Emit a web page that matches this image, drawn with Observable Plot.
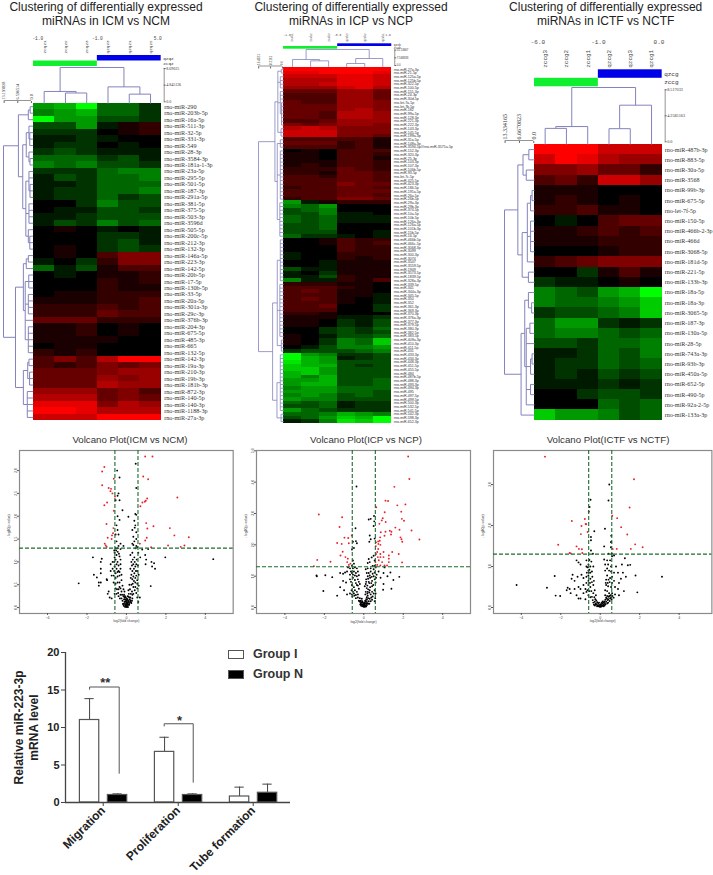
<!DOCTYPE html>
<html><head><meta charset="utf-8">
<script src="https://cdn.jsdelivr.net/npm/d3@7"></script>
<script src="https://cdn.jsdelivr.net/npm/@observablehq/plot@0.6"></script>
<style>
html,body{margin:0;padding:0;background:#fff}
#page{position:relative;width:713px;height:875px;overflow:hidden;font-family:"Liberation Sans",Arial,sans-serif;color:#222}
#page>svg,#page>div{position:absolute}
</style></head><body><div id="page"></div>
<script>
// ---------- heatmap data (green -10 … black 0 … red +10) ----------
const icmLabels=["rno-miR-290","rno-miR-203b-5p","rno-miR-16a-5p","rno-miR-511-3p","rno-miR-32-5p","rno-miR-331-3p","rno-miR-549","rno-miR-28-3p","rno-miR-3584-3p","rno-miR-181a-1-3p","rno-miR-23a-5p","rno-miR-295-5p","rno-miR-501-5p","rno-miR-187-3p","rno-miR-291a-5p","rno-miR-381-5p","rno-miR-375-5p","rno-miR-503-3p","rno-miR-3596d","rno-miR-505-5p","rno-miR-200c-5p","rno-miR-212-3p","rno-miR-132-3p","rno-miR-146a-5p","rno-miR-223-3p","rno-miR-142-5p","rno-miR-20b-5p","rno-miR-17-5p","rno-miR-130b-5p","rno-miR-33-5p","rno-miR-20a-5p","rno-miR-301a-3p","rno-miR-29c-3p","rno-miR-376b-3p","rno-miR-204-3p","rno-miR-675-5p","rno-miR-485-3p","rno-miR-665","rno-miR-132-5p","rno-miR-142-3p","rno-miR-19a-3p","rno-miR-210-3p","rno-miR-19b-3p","rno-miR-181b-3p","rno-miR-872-3p","rno-miR-140-5p","rno-miR-140-3p","rno-miR-1188-3p","rno-miR-27a-3p"];
const icmValues=[[-6,-7,-10,-4,-4,-2],[-5,-6,-7,-4,-4,-2],[-10,-6,-6,-3,-3,-2],[-3,-3,-6,-1,1,2],[-2,-2,-2,0,1,2],[-1,-1,-2,-1,0,0],[-1,-2,-2,0,-1,0],[-2,-3,-2,-1,-1,-1],[-4,-4,-4,-2,-3,-1],[-5,-4,-5,-3,-3,-2],[-2,-2,-2,-4,-5,-5],[-1,-3,-2,-4,-4,-5],[-1,-1,-2,-4,-4,-4],[-1,-2,-2,-4,-4,-5],[-1,-2,-2,-4,-2,-3],[0,0,-2,-5,-3,-3],[0,-1,-1,-3,-3,-2],[-1,-1,-2,-3,-3,-3],[-1,-3,-2,-5,-3,-4],[0,1,0,-1,0,-1],[0,0,0,-2,-2,-1],[0,0,0,-2,-3,-1],[0,1,0,-2,-3,-2],[0,1,0,3,5,5],[-1,0,-2,2,5,5],[-4,-1,-3,1,3,3],[0,-1,0,1,1,2],[0,0,0,2,1,2],[0,0,0,2,1,1],[0,1,1,2,2,2],[1,1,1,2,2,3],[2,2,2,3,2,3],[2,2,2,4,3,3],[4,4,4,2,2,2],[1,1,2,0,1,0],[1,1,2,0,1,0],[1,1,1,1,0,0],[0,1,1,0,0,0],[2,1,2,0,0,0],[3,5,3,7,10,10],[3,2,3,5,4,5],[4,4,4,5,6,6],[4,4,4,6,5,6],[4,4,4,7,6,6],[6,6,6,4,5,3],[7,7,7,4,5,4],[9,9,9,5,7,6],[10,10,9,7,7,7],[8,8,8,10,10,10]];
const icpLabels=["rno-miR-27a-3p","rno-miR-21-5p","rno-miR-125a-5p","rno-miR-125b-5p","rno-miR-322-5p","rno-miR-100-5p","rno-miR-151-3p","rno-miR-24-3p","rno-miR-30d-5p","rno-let-7a-5p","rno-let-7b-5p","rno-miR-182","rno-miR-99a-5p","rno-miR-128-3p","rno-miR-221-3p","rno-miR-222-3p","rno-miR-143-3p","rno-miR-145-5p","rno-miR-199a-3p","rno-miR-31a-5p","rno-miR-148a-3p","rno-miR-3594-5p///rno-miR-3571a-5p","rno-miR-152-3p","rno-miR-320-3p","rno-miR-25-3p","rno-miR-103-3p","rno-miR-107-3p","rno-miR-106b-5p","rno-miR-93-5p","rno-let-7c-5p","rno-miR-425-5p","rno-miR-423-3p","rno-miR-186-5p","rno-miR-191a-5p","rno-miR-26a-5p","rno-miR-26b-5p","rno-miR-29a-3p","rno-miR-29b-3p","rno-miR-374-5p","rno-miR-10a-5p","rno-miR-10b-5p","rno-miR-126a-3p","rno-miR-126a-5p","rno-miR-101b-3p","rno-miR-15b-5p","rno-miR-16-5p","rno-miR-466b-5p","rno-miR-466c-5p","rno-miR-3068-3p","rno-miR-3099","rno-miR-300-3p","rno-miR-3074","rno-miR-3547","rno-miR-3559-5p","rno-miR-1949","rno-miR-3573-5p","rno-miR-1839-5p","rno-miR-328a-3p","rno-miR-339-5p","rno-miR-341","rno-miR-344a-3p","rno-miR-345-5p","rno-miR-350","rno-miR-352","rno-miR-361-3p","rno-miR-369-3p","rno-miR-370-3p","rno-miR-376a-3p","rno-miR-377-3p","rno-miR-379-5p","rno-miR-380-3p","rno-miR-382-5p","rno-miR-383-5p","rno-miR-409a-3p","rno-miR-410-3p","rno-miR-411-5p","rno-miR-431","rno-miR-433-3p","rno-miR-434-3p","rno-miR-448-3p","rno-miR-451-5p","rno-miR-455-5p","rno-miR-484","rno-miR-487b-5p","rno-miR-488-3p","rno-miR-493-3p","rno-miR-494-3p","rno-miR-495","rno-miR-497-5p","rno-miR-499-5p","rno-miR-500-3p","rno-miR-532-5p","rno-miR-541-5p","rno-miR-542-3p","rno-miR-598-3p","rno-miR-652-3p"];
const icpValues=[[10,10,10,10,10,10],[9,9,10,10,10,9],[8,8,8,9,9,8],[7,7,7,9,9,8],[7,7,8,9,9,8],[6,6,6,8,9,7],[4,4,4,6,6,4],[3,3,3,6,6,4],[3,3,3,6,6,4],[4,3,3,6,6,5],[4,4,4,6,6,5],[4,4,4,6,7,5],[4,4,3,7,7,6],[4,4,3,7,7,6],[3,3,4,6,6,6],[5,4,5,6,6,5],[7,8,7,5,5,5],[8,8,8,5,5,5],[8,8,8,5,5,4],[3,3,3,3,3,1],[4,4,4,2,3,1],[3,3,3,2,3,1],[0,1,0,3,3,3],[1,1,0,3,3,2],[1,1,0,3,3,1],[1,1,1,3,3,2],[1,2,1,3,3,2],[2,2,2,4,3,2],[2,2,1,4,4,3],[3,3,2,4,4,3],[3,3,3,4,4,3],[3,3,3,5,4,4],[2,3,3,4,4,3],[3,3,3,4,4,4],[3,3,3,4,4,3],[2,3,3,5,5,4],[-6,-1,1,2,2,2],[-5,-4,-6,0,0,0],[-3,-4,-5,0,0,0],[-3,-3,-5,-1,-1,0],[-4,-3,-4,-1,-1,-1],[-4,-3,-4,-1,-1,-1],[-3,-3,-4,0,0,0],[-3,-3,-4,0,0,0],[-3,-3,-3,0,0,-1],[-4,-2,-2,-1,0,-1],[0,0,1,3,2,2],[0,0,1,3,2,3],[0,0,0,3,2,2],[0,0,0,3,2,2],[-1,0,0,2,2,2],[-1,0,0,2,1,2],[0,0,-1,1,1,1],[0,0,-1,1,1,1],[-3,-1,-1,1,1,1],[-1,0,-2,1,1,1],[-1,-1,-3,2,1,1],[-5,-1,-1,2,1,3],[2,2,2,1,1,0],[3,3,3,2,1,0],[3,4,3,1,1,0],[3,3,3,1,1,-1],[3,4,3,1,0,-1],[3,3,3,1,0,-1],[3,3,4,0,0,-2],[3,3,3,0,0,-2],[2,2,1,0,0,0],[1,1,1,-1,-1,-2],[1,1,0,-2,-1,-3],[1,1,0,-2,-1,-3],[0,0,-2,-3,-2,-4],[0,0,-2,-3,-2,-3],[1,0,-1,-3,-3,-4],[1,0,-2,-5,-4,-8],[1,0,-2,-5,-4,-8],[0,-1,-3,-5,-5,-6],[-2,-3,-3,-3,-4,-5],[-10,-6,-5,-2,-2,-3],[-10,-7,-6,-1,-2,-3],[-9,-7,-6,-3,-3,-3],[-8,-7,-7,-3,-2,-3],[-8,-8,-6,-3,-3,-3],[-7,-8,-6,-3,-3,-3],[-7,-5,-7,-3,-3,-3],[-6,-6,-7,-3,-3,-4],[-6,-7,-7,-3,-3,-4],[-5,-6,-6,-4,-4,-4],[-6,-6,-6,-4,-4,-3],[-5,-6,-5,-3,-4,-3],[-6,-5,-5,-3,-3,-3],[-4,-3,-4,-1,-2,-2],[-3,-3,-4,-1,-2,-2],[-6,-4,-3,-2,-2,-2],[-4,-4,-5,-7,-6,-5],[-3,-4,-6,-8,-7,-10],[-1,-2,-5,-9,-8,-10]];
const ictfLabels=["rno-miR-487b-3p","rno-miR-883-5p","rno-miR-30a-5p","rno-miR-3568","rno-miR-99b-3p","rno-miR-675-5p","rno-let-7f-5p","rno-miR-150-5p","rno-miR-466b-2-3p","rno-miR-466d","rno-miR-3068-5p","rno-miR-181d-5p","rno-miR-221-5p","rno-miR-133b-3p","rno-miR-18a-5p","rno-miR-18a-3p","rno-miR-3065-5p","rno-miR-187-3p","rno-miR-130a-5p","rno-miR-28-5p","rno-miR-743a-3p","rno-miR-93b-3p","rno-miR-450a-5p","rno-miR-652-5p","rno-miR-490-5p","rno-miR-92a-2-5p","rno-miR-133a-3p"];
const ictfValues=[[10,10,10,8,8,8],[8,10,9,7,6,6],[5,5,6,4,4,2],[3,4,2,8,8,6],[1,1,1,0,0,0],[1,2,1,0,1,0],[2,2,3,1,1,0],[0,-1,0,3,4,4],[1,1,2,3,2,3],[1,1,1,2,2,2],[0,0,0,1,2,2],[2,3,4,5,5,5],[0,0,-2,1,3,1],[-2,-1,-1,0,1,0],[-5,-4,-3,-6,-7,-10],[-5,-4,-4,-5,-6,-8],[-2,-3,-3,-4,-5,-8],[-4,-6,-6,-2,-1,-2],[-4,-5,-5,-4,-3,-4],[-3,-3,-2,-4,-4,-5],[-1,-1,-2,-4,-3,-5],[-1,-2,-2,-4,-3,-4],[-1,-2,-1,-3,-2,-3],[-1,-1,-1,-2,-1,-2],[0,0,-2,-3,-3,-2],[0,0,0,-4,-3,-4],[-8,-6,-6,-5,-3,-4]];
// sample names and dendrograms: [merge height, child, child, …]; a number is a leaf index
const icmSamples=["zcqz1","zcqz2","zcqz3","qzqz3","qzqz1","qzqz2"];
const icpSamples=["zcxb1","zcxb2","zcxb3","qzxb3","qzxb2","qzxb1"];
const ictfSamples=["zccg3","zccg2","zccg1","qzcg2","qzcg3","qzcg1"];
const icmColTree=[8.96,[2.7,0,[2.3,1,2]],[3.9,3,[2,4,5]]];
const icpColTree=[15.7,[5.9,0,[4.6,1,2]],[6.9,[2,3,4],5]];
const ictfColTree=[8.9,[2.5,[2.2,0,1],2],[6,[2.15,3,4],5]];
const icmRowTree=[13.5,
 [6.3,[1.5,[0.6,0,1],2],[4.2,[2.5,[1.2,3,[.8,4,5,6]],[1.2,7,[.7,8,9]]],[2.7,[1.2,10,11,[.7,12,13,14]],[1.2,15,16,17,18],[1.5,19,[.8,20,21,22]]]]],
 [7.7,[3.9,[2.5,[1.5,23,24],25],[3,[1.3,26,27,28],[1.5,29,30,31,32],33,[1.5,34,35,36,37,38]]],[3.9,[1.8,[1.2,39,40],[.9,41,42,43]],[2,44,45,46,47,48]]]];
const icpRowTree=[16.5,
 [5.2,[3.2,[.8,0,1],[1.5,2,3,4,5],[1.5,6,7,8,[.7,9,10,11,12,13,14,15]],[1,16,17,18]],[3.6,[1.5,19,20,21],[1.5,22,23,24,25,26,27,28,29,30,31,32,33,34,35],[1.8,36,37,38,39,40,41,42,43,44,45]]],
 [6.8,[3.6,[1.5,46,47,48,49,50,51,52,53,54,55,56,57],[1.8,58,59,60,61,62,63,64,65,66,67,68,69,70,71,72],[.8,73,74,75,76]],[3.8,[1.5,77,78,79,80,81,82,83,84,85,86,87,88,89,90,91,92],[1,93,94,95]]]];
const ictfRowTree=[13.6,
 [7.4,[5,[2.3,0,1],[3.5,2,3]],[5.4,[3,[1.5,[.8,4,5],6],[1.5,7,8,9,10],11],[2.5,12,13]]],
 [5.9,[4.2,[2.5,14,[1,15,16]],[3.5,[1.8,17,18],19,[1.5,[.8,20,21],22],[1.5,23,24],25]],26]];
// ---------- volcano points: [log2 fold change, -log10 p] ----------
const icmRed=[[.95,3.31],[1.32,3.31],[-1.12,3.08],[-1.23,2.98],[.85,2.87],[1.1,2.81],[-.64,2.82],[-1.23,2.68],[-.9,2.62],[-.78,2.6],[-.81,2.55],[-.71,2.5],[2.58,2.41],[-.58,2.43],[1.05,2.39],[.98,2.34],[.93,2.32],[.81,2.3],[.71,2.22],[-.98,2.3],[-1.12,2.24],[-.64,2.12],[1,1.85],[-1.01,1.83],[1.37,1.78],[1.06,1.73],[2.2,1.74],[-.66,1.74],[-.68,1.63],[-.73,1.58],[2.43,1.58],[3.16,1.54],[-.95,1.53],[1.03,1.53],[.95,1.47],[-1.1,1.4],[-1.05,1.36],[2.11,1.36],[2.94,1.36],[2.75,1.33],[3.46,1.3],[-.75,1.5],[-1,1.33],[.68,1.4],[1.25,1.32]];
const icmBlack=[[.47,3.15],[-.47,3],[-.35,2.85],[.5,2.62],[-.4,2.5],[-.45,2.45],[-.55,2.35],[-.35,2.35],[-.2,2.13],[-.45,2],[.1,1.99],[.45,2.05],[.5,2.03],[-.35,1.92],[.4,1.9],[.45,1.8],[-.5,1.8],[-.45,1.7],[.42,1.75],[.3,1.7],[.5,1.65],[-.55,1.6],[-.4,1.6],[.35,1.55],[.5,1.5],[.4,1.45],[-.5,1.45],[-.15,1.35],[-.3,1.4],[-.4,1.35],[.3,1.4],[.35,1.37],[.5,1.35],[-.55,1.3],[-.45,1.3],[-.3,1.28],[.45,1.3],[.55,1.32],[.8,1.27],[1.1,1.28],[-1.7,1.1],[-1.25,1.07],[1.97,1.1],[4.4,1.06],[.95,1.15],[1,1.05],[1.27,1],[1.4,.97],[.97,.95],[1.45,.85],[1.3,.9],[-1.3,1],[-1.3,.85],[-1.3,.75],[-.8,.95],[-1.65,.72],[-1.5,.66],[-1.4,.55],[-.98,.6],[-1.3,.55],[-2.42,.53],[-1.4,.48],[-1,.62],[1.23,.47],[-.6,1.2],[-.5,1.15],[-.38,1.18],[-.6,1.1],[-.7,1],[-.55,1.05],[-.45,1],[-.3,1.05],[.2,1.15],[.3,1.2],[.4,1.1],[.52,1.05],[.6,1.2],[.7,1.1],[.25,1],[.35,.95],[.45,.9],[.55,.8],[.2,.85],[.3,.8],[.4,.75],[.5,.7],[.62,.72],[-.8,.8],[-.7,.85],[-.6,.9],[-.5,.85],[-.4,.8],[-.3,.85],[-.75,.7],[-.65,.7],[-.55,.65],[-.45,.68],[-.35,.7],[-.65,.55],[-.55,.52],[-.45,.55],[-.35,.55],[-.25,.6],[.22,.65],[.3,.62],[.38,.58],[.45,.55],[.55,.6],[.15,.5],[.25,.5],[.35,.45],[.45,.45],[.55,.42],[.62,.48],[-.3,.42],[-.2,.48],[-.15,.4],[-.25,.35],[-.1,.35],[.1,.38],[.18,.4],[.28,.35],[.35,.3],[.12,.3],[-.95,.3],[-.85,.22],[-.9,.35],[-.75,.2],[-.6,.3],[-.5,.3],[-.4,.25],[-.3,.28],[.55,.22],[.68,.22],[.6,.12],[.3,.2],[.2,.22],[.2,.15],[.25,.1],[.15,.1],[-.25,.2],[-.2,.15],[-.15,.25],[-.12,.18],[-.1,.12],[-.08,.08],[-.05,.14],[-.05,.05],[0,.02],[0,.06],[.02,.12],[.05,.03],[.06,.09],[.08,.16],[.1,.06],[.12,.14],[-.02,.1],[-.03,.18],[-.1,.22],[.02,.2],[.06,.25],[-.12,.28],[.14,.22],[-.4,.4],[.02,.01],[-.02,.03],[-.07,.02],[.03,.07],
 [-.62,1.25],[-.52,1.25],[-.44,1.22],[-.35,1.12],[-.62,1],[-.5,.95],[-.4,.92],[-.3,.95],[-.62,.8],[-.55,.75],[-.45,.78],[-.35,.78],[-.25,.72],[.32,1.05],[.42,1],[.5,.95],[.58,.92],[.28,.92],[.38,.85],[.48,.8],[.25,.72],[.35,.68],[.45,.65],[.55,.52],[.32,.52],[.42,.38],[.5,.32],[.22,.3],[.3,.28],[-.55,.42],[-.48,.4],[-.35,.45],[-.42,.32],[-.33,.2],[-.22,.28],[-.18,.08],[-.14,.04],[-.09,.18],[-.07,.25],[-.04,.22],[0,.15],[.04,.18],[.1,.24],[.14,.06],[.17,.18],[.22,.12],[.28,.15],[-.02,.06],[-.06,.02],[.08,.01],[.01,.04],[.04,.1],[.09,.12],[-.15,.08]];
const icpRed=[[2.25,4.82],[2.31,4.1],[1.55,3.85],[1.1,3.41],[1.23,3.4],[2.11,3.29],[1.7,3.26],[.63,3.2],[1.06,3.04],[-2.28,2.97],[-1.1,2.88],[1.9,3.06],[1.93,2.83],[2.04,2.77],[.96,2.85],[.91,2.78],[-1.23,2.57],[.79,2.67],[1.11,2.73],[1.6,2.55],[2.42,2.46],[1.32,2.45],[1.81,2.48],[1.1,2.42],[.86,2.4],[1.40,2.42],[1.38,2.33],[1.05,2.29],[.83,2.24],[1.86,2.24],[1.91,2.18],[1.95,2.1],[2.82,2.17],[-.98,2.23],[-.79,2.22],[-.61,2.3],[.81,2.13],[.73,2.11],[.62,2.08],[-1.35,2.06],[-.76,2.05],[-1.12,2.03],[.74,2.03],[.84,2],[.61,1.96],[.73,1.87],[-1.07,1.78],[.68,1.77],[1.44,1.77],[1.77,1.71],[1,1.77],[.62,1.71],[.84,1.71],[1.27,1.66],[-1.18,1.66],[-.93,1.61],[-.81,1.56],[.71,1.61],[.84,1.61],[1,1.61],[1.27,1.56],[-.84,1.45],[-2.36,1.52],[-1.69,1.46],[1.94,1.44],[.59,1.45],[.76,1.51],[.93,1.45],[1.27,1.45],[-.68,1.4],[-.76,1.36],[-2.53,1.32],[.68,1.36],[.84,1.34],[1.05,1.34],[1.18,1.34]];
const icpBlack=[[-.37,3.86],[-.42,2.53],[.25,2.81],[.35,2.83],[.52,2.92],[.53,2.75],[.5,2.6],[.3,2.3],[.28,2.1],[.35,2.18],[.55,2.2],[-.55,2.1],[-.4,2.12],[-.35,2.05],[-.5,1.9],[-.6,1.85],[.5,1.65],[.4,1.6],[.55,1.5],[.25,1.55],[.3,1.45],[.2,1.42],[-.55,1.5],[-.5,1.4],[-.6,1.33],[.45,1.33],[.55,1.33],[-.7,1.25],[-.8,1.28],[-.55,1.25],[-.45,1.28],[-.35,1.25],[.1,1.22],[.2,1.25],[.35,1.25],[.5,1.22],[.6,1.28],[1.05,1.28],[-2.4,1.02],[-2.38,1],[-1.95,1.03],[-1.6,.97],[-1.2,1.1],[-1.05,1.08],[-.95,1.12],[-.85,1.15],[-.7,1.05],[-.6,1.1],[-.5,1.15],[-.4,1.1],[-.3,1.15],[.15,1.1],[.25,1.1],[.35,1.15],[.45,1.08],[.55,1.12],[.65,1.05],[.75,1.15],[1,1.1],[1.35,1.12],[1.2,1],[1.5,.88],[1.8,.98],[-1.05,.85],[-.9,.8],[-.7,.9],[-.55,.95],[-.45,.88],[-.3,.9],[-.25,.82],[.12,.9],[.22,.92],[.32,.95],[.42,.85],[.55,.9],[.6,.8],[.85,.95],[1,.75],[-2.05,.53],[-1.2,.65],[-1.35,.38],[-1,.55],[-.85,.42],[-.6,.72],[-.5,.65],[-.35,.72],[-.2,.75],[-.62,.55],[-.55,.5],[-.45,.55],[-.35,.5],[-.25,.6],[.1,.75],[.18,.7],[.28,.78],[.15,.62],[.22,.58],[.32,.65],[.42,.68],[.55,.55],[.6,.45],[.98,.57],[1.4,.6],[-.6,.42],[-.5,.45],[-.4,.4],[-.3,.42],[.1,.5],[.18,.45],[.28,.48],[.35,.42],[.45,.35],[.58,.3],[-.2,.3],[-.15,.22],[-.1,.28],[-.08,.2],[-.05,.16],[-.02,.12],[0,.07],[.02,.05],[.05,.09],[.08,.14],[.1,.2],[.12,.27],[.15,.33],[.2,.38],[.05,.03],[-.02,.04],[-.05,.08],[-.1,.1],[-.12,.16],[-.18,.18],[.03,.16],[.07,.22],[.16,.25],[.22,.3],[.03,.06],[.13,.12],[-.15,.12],[-.22,.2],[.01,.02],
 [.2,1],[.3,1.02],[.4,.98],[.5,1],[.62,.95],[.25,.82],[.38,.78],[.48,.72],[.12,.82],[.05,.68],[.2,.5],[.3,.55],[.42,.5],[.5,.45],[.08,.42],[.15,.18],[.25,.2],[.35,.2],[.42,.25],[.55,.2],[-.65,1.15],[-.55,1.05],[-.45,1.02],[-.35,1],[-.25,1.03],[-.65,.82],[-.58,.7],[-.4,.78],[-.3,.7],[-.7,.45],[-.58,.35],[-.48,.38],[-.4,.3],[-.3,.32],[-.25,.22],[-.18,.1],[-.14,.06],[-.08,.04],[0,.11],[.08,.06],[.1,.03],[.16,.08],[.18,.14],[.04,.12],[-.03,.09],[.12,.04],[.22,.12],[.28,.12],[.3,.28],[.38,.32]];
const ictfRed=[[-2.8,3.68],[1.71,3.13],[1.49,2.44],[.61,2.24],[.86,2.18],[-1.44,2.11],[-.78,2.16],[-.95,1.99],[-.74,2.04],[-.71,2.03],[1.06,1.96],[-.64,1.84],[-.98,1.79],[1.37,1.78],[-2.13,1.53],[1.77,1.54],[-1.2,1.49],[2.15,1.47],[-1.08,1.43],[-.93,1.42],[.63,1.43],[.84,1.43],[1.55,1.43],[-1.55,1.33],[-1.49,1.32],[-.91,1.33],[-.57,2.34]];
const ictfBlack=[[.46,3],[-.49,2.63],[.42,2.61],[-.54,2.45],[-.58,2.34],[-.3,1.86],[.24,1.92],[.56,1.75],[.55,1.6],[-.47,1.72],[-.47,1.64],[.2,1.49],[.56,1.59],[.54,1.47],[-.47,1.39],[-.37,1.31],[.59,1.31],[.42,1.31],[-4.24,.55],[-2.7,.48],[-2.31,.77],[-2.26,.29],[-2.03,.28],[3.13,.75],[1.88,.37],[1.79,.78],[1.52,1.04],[1.4,1.03],[1.25,1.2],[.7,1.27],[.6,1.25],[-1.2,1.15],[-1.1,1.1],[-1,1.05],[-.7,1.15],[-.55,1.16],[-.45,1.12],[-.6,1.05],[-.7,1],[-.65,.98],[-.6,.9],[-.5,1],[-.35,1],[.2,1.17],[.35,1.15],[.5,1.15],[.25,1.05],[.4,1.05],[.55,1],[.8,1],[1.1,1.05],[.9,.85],[1.15,.85],[1.05,.7],[1.3,.75],[-1.4,.8],[-1.45,.7],[-1.3,.65],[-1.15,.75],[-.95,.8],[-.85,.72],[-.7,.75],[-.6,.78],[-.5,.7],[-.4,.75],[.35,.78],[.5,.72],[.6,.75],[.3,.68],[.42,.68],[.7,.65],[.95,.6],[-1.65,.48],[-1.7,.42],[-1.55,.45],[-1.5,.35],[-1.3,.45],[-1.1,.5],[-1,.45],[-.85,.55],[-.7,.6],[-.6,.55],[-.5,.5],[-.35,.55],[.3,.55],[.4,.52],[.55,.5],[.75,.5],[.9,.45],[1.2,.4],[-1.2,.3],[-1.1,.22],[-1,.22],[-.85,.35],[-.7,.38],[-.6,.3],[-.45,.4],[-.35,.35],[.25,.42],[.35,.4],[.45,.35],[.6,.35],[.75,.32],[.95,.3],[.55,.25],[.35,.28],[.25,.3],[-.75,.2],[-.5,.25],[-.38,.18],[-.3,.25],[-.28,.14],[-.25,.2],[-.22,.1],[-.2,.17],[-.18,.07],[-.15,.13],[-.12,.05],[-.1,.1],[-.08,.03],[-.05,.06],[-.02,.02],[0,.04],[.03,.02],[.05,.06],[.08,.03],[.1,.09],[.13,.05],[.15,.12],[.18,.08],[.2,.15],[.23,.11],[.26,.19],[.3,.14],[.33,.22],[.38,.18],[.42,.26],[-.32,.07],[-.27,.05],[.4,.12],[.48,.16],
 [-.62,.98],[-.55,.92],[-.68,.85],[-.58,.85],[-.5,.85],[-.42,.88],[-.6,.65],[-.52,.6],[-.42,.62],[-.32,.65],[-.75,.45],[-.65,.42],[-.55,.4],[-.28,.42],[-.22,.3],[-.42,.26],[-.35,.12],[-.25,.08],[-.16,.03],[-.06,.12],[.02,.08],[.07,.12],[.12,.15],[.17,.03],[.22,.05],[.27,.08],[.3,.24],[.36,.1],[.4,.2],[.46,.28],[.5,.22],[.52,.3],[.58,.2],[.62,.28],[.68,.24],[.28,.6],[.38,.6],[.48,.62],[.6,.6],[.45,.9],[.55,.88],[.7,.85],[.35,.95],[.25,.9]];
// ---------- bar chart ----------
const barCategories=["Migration","Proliferation","Tube formation"];
const groupIMeans=[11,6.75,0.8], groupIErr=[2.85,1.95,1.25];
const groupNMeans=[1,1,1.3], groupNErr=[0.15,0.15,1.15];

const page=document.getElementById("page");
const mount=(el,x,y)=>{el.style.left=x+"px";el.style.top=y+"px";page.appendChild(el);return el;};
const baseStyle=f=>({background:"none",overflow:"visible",fontFamily:f,color:"#333"});
const SERIF='"Liberation Serif",serif',MONO='"Liberation Mono",monospace',SANS='"Liberation Sans",sans-serif';
const DENDRO="#8383bd";

function treeSegments(tree,base){
  const segs=[];
  const walk=n=>{
    if(typeof n==="number")return{p:n+.5,h:base};
    const kids=n.slice(1).map(walk),p=(kids[0].p+kids[kids.length-1].p)/2;
    segs.push({p1:kids[0].p,p2:kids[kids.length-1].p,h1:n[0],h2:n[0]});
    kids.forEach(k=>segs.push({p1:k.p,p2:k.p,h1:k.h,h2:n[0]}));
    return{p,h:n[0]};
  };
  walk(tree);return segs;
}
function heatPanel(c){
  const w=c.x1-c.x0,h=c.y1-c.y0;
  const cells=c.values.flatMap((r,ri)=>r.map((v,col)=>({row:c.labels[ri],col,v})));
  mount(Plot.plot({width:w+c.labelRoom,height:h,marginLeft:0,marginRight:c.labelRoom,marginTop:0,marginBottom:0,
    style:baseStyle(c.labelFont),
    x:{type:"band",domain:d3.range(6),padding:0,round:false,axis:null},
    y:{type:"band",domain:c.labels,padding:0,round:false,label:null},
    color:{type:"linear",domain:[-10,0,10],range:["#00ff00","#000000","#ff0000"],interpolate:"rgb"},
    marks:[Plot.cell(cells,{x:"col",y:"row",fill:"v",inset:0,shapeRendering:"crispEdges",imageFilter:"blur(0.7px)"}),
      Plot.axisY({anchor:"right",tickSize:0,tickPadding:c.labelPad,fontSize:c.labelSize,fill:"#333",label:null})]
  }),c.x0,c.y0);
  const topH=c.y0-c.colTop;
  mount(Plot.plot({width:w+45,height:topH,marginLeft:0,marginRight:45,marginTop:0,marginBottom:0,
    style:baseStyle(c.labelFont),
    x:{domain:[0,6],axis:null},y:{domain:[c.colBase,c.colTree[0]],label:null},
    marks:[Plot.link(treeSegments(c.colTree,c.colBase),{x1:"p1",x2:"p2",y1:"h1",y2:"h2",stroke:DENDRO,strokeWidth:c.sw}),
      Plot.ruleX([6],{y1:0,y2:c.colTicks[c.colTicks.length-1],dx:c.axisDx+1,stroke:"#666",strokeWidth:.7}),
      Plot.axisY({anchor:"right",ticks:c.colTicks,tickFormat:(d,i)=>c.colTickLabels[i],tickSize:2,tickPadding:1,dx:c.axisDx,fontSize:c.scaleSize,stroke:"#666",fill:"#333",label:null})]
  }),c.x0,c.colTop);
  const leftW=c.x0-c.rowLeft;
  mount(Plot.plot({width:leftW,height:h,marginLeft:0,marginRight:0,marginTop:0,marginBottom:0,
    style:baseStyle(c.labelFont),
    x:{domain:[c.rowTree[0],c.rowBase],label:null},y:{domain:[0,c.labels.length],reverse:true,axis:null},
    marks:[Plot.link(treeSegments(c.rowTree,c.rowBase),{y1:"p1",y2:"p2",x1:"h1",x2:"h2",stroke:DENDRO,strokeWidth:c.sw}),
      Plot.ruleY([0],{x1:0,x2:c.rowTicks[c.rowTicks.length-1],dy:-c.rowAxisDy,stroke:"#666",strokeWidth:.7}),
      Plot.axisX({anchor:"top",ticks:c.rowTicks,tickFormat:(d,i)=>c.rowTickLabels[i],tickRotate:-90,tickSize:2,tickPadding:1,dy:-c.rowAxisDy+2,fontSize:c.rowScaleSize,stroke:"#666",fill:"#333",label:null})]
  }),c.rowLeft,c.y0);
  const gTop=c.gTop,mt=gTop-c.headTop,gH=c.gBottom-gTop;
  const groupNames=[c.groups[0],c.groups[1]];
  mount(Plot.plot({width:w+30,height:mt+gH,marginLeft:0,marginRight:30,marginTop:mt,marginBottom:0,
    style:baseStyle(c.sampleFont),
    x:{domain:[0,6],label:null},y:{type:"band",domain:groupNames,padding:0,round:false,label:null},
    marks:[Plot.rect([{x1:3,x2:6,g:groupNames[0]}],{x1:"x1",x2:"x2",y:"g",fill:"#0000e8"}),
      Plot.rect([{x1:0,x2:3,g:groupNames[1]}],{x1:"x1",x2:"x2",y:"g",fill:"#10ee30"}),
      Plot.axisX({anchor:"top",ticks:[.5,1.5,2.5,3.5,4.5,5.5],tickFormat:(d,i)=>c.samples[i],tickRotate:-90,tickSize:0,tickPadding:2,fontSize:c.sampleSize,fill:"#444",label:null}),
      Plot.axisY({anchor:"right",tickSize:0,tickPadding:2,fontSize:c.sampleSize,fill:"#333",label:null}),
      Plot.text(c.scaleLabels,{x:(d,i)=>c.scalePos[i],text:d=>d,frameAnchor:"top",dy:c.scaleDy,fontSize:c.scaleFont,fill:"#444"})]
  }),c.x0,c.headTop);
}
heatPanel({labels:icmLabels,values:icmValues,x0:33,x1:160.7,y0:102.7,y1:420,labelRoom:55,labelFont:SERIF,labelSize:6.2,labelPad:3,
  colTop:66.7,colBase:-.44,colTree:icmColTree,colTicks:[0,4.345,8.69],colTickLabels:["0.0","4.845126","8.69025"],axisDx:2,scaleSize:4,rowScaleSize:4.2,sw:1,
  rowLeft:3.3,rowBase:-.85,rowTree:icmRowTree,rowTicks:[0,6.6,13.19],rowTickLabels:["0.0","6.596514","13.193028"],rowAxisDy:3,
  gTop:55,gBottom:66,headTop:30,groups:["qzqz","zcqz"],samples:icmSamples,sampleFont:MONO,sampleSize:4.4,scaleLabels:["-1.0","-1.0","5.0"],scalePos:[.2,3,5.84],scaleDy:-19,scaleFont:4.5});
heatPanel({labels:icpLabels,values:icpValues,x0:283,x1:391.3,y0:66.7,y1:422.7,labelRoom:70,labelFont:SANS,labelSize:3.6,labelPad:2,
  colTop:49.3,colBase:-1.3,colTree:icpColTree,colTicks:[0,7.57,15.14],colTickLabels:["0.0","7.568333","15.13667"],axisDx:2,scaleSize:2.8,rowScaleSize:3,sw:.8,
  rowLeft:257.7,rowBase:-.9,rowTree:icpRowTree,rowTicks:[0,8.2,16.4],rowTickLabels:["0.0","8.2161","16.4321"],rowAxisDy:1.5,
  gTop:43.3,gBottom:48.7,headTop:23,groups:["qzxb","zcxb"],samples:icpSamples,sampleFont:MONO,sampleSize:2.9,scaleLabels:["-1.6","-0.6","1.6"],scalePos:[.2,3,5.8],scaleDy:-10,scaleFont:3});
heatPanel({labels:ictfLabels,values:ictfValues,x0:534,x1:661.7,y0:144.3,y1:420,labelRoom:51,labelFont:SERIF,labelSize:6.1,labelPad:2.5,
  colTop:87.3,colBase:-.44,colTree:ictfColTree,colTicks:[0,4.26,8.52],colTickLabels:["0.0","4.2585163","8.517033"],axisDx:2,scaleSize:4.2,rowScaleSize:6,sw:1,
  rowLeft:504,rowBase:-.33,rowTree:ictfRowTree,rowTicks:[0,6.667,13.33],rowTickLabels:["0.0","6.6670823","13.334165"],rowAxisDy:4,
  gTop:69.3,gBottom:86.3,headTop:35,groups:["qzcg","zccg"],samples:ictfSamples,sampleFont:MONO,sampleSize:6,scaleLabels:["-6.0","-1.0","0.0"],scalePos:[.16,3,5.85],scaleDy:-30,scaleFont:6});

function volcano(c){
  const ml=16,mb=14,mt=2,mr=1;
  mount(Plot.plot({width:c.fx1-c.fx0+ml+mr,height:613-450+mt+mb,marginLeft:ml,marginRight:mr,marginTop:mt,marginBottom:mb,
    style:baseStyle(SANS),
    x:{domain:c.xd,label:null},y:{domain:c.yd,label:null},
    marks:[Plot.frame({stroke:"#8a8a8a",strokeWidth:1.2}),
      Plot.dot(c.black,{x:d=>d[0],y:d=>d[1],r:.95,fill:"#000"}),
      Plot.dot(c.red,{x:d=>d[0],y:d=>d[1],r:.95,fill:"#e8202a"}),
      Plot.ruleX([-.585,.585],{stroke:"#1d6b2d",strokeWidth:1.1,strokeDasharray:"4,2"}),
      Plot.ruleY([1.301],{stroke:"#1d6b2d",strokeWidth:1.1,strokeDasharray:"4,2"}),
      Plot.axisX({ticks:[-4,-2,0,2,4],tickSize:2,tickPadding:1,fontSize:3.6,stroke:"#555",fill:"#444",label:null}),
      Plot.axisY({ticks:c.yt,tickSize:2,tickPadding:1,tickRotate:-90,fontSize:3.4,stroke:"#555",fill:"#444",label:null}),
      Plot.text(["- log10(p-value)"],{frameAnchor:"left",dx:-11,dy:6,rotate:-90,fontSize:3.4,fill:"#444"}),
      Plot.text(["log2(fold change)"],{frameAnchor:"bottom",dy:9,fontSize:3.4,fill:"#444"})]
  }),c.fx0-ml,450-mt);
}
volcano({fx0:19,fx1:232.7,xd:[-5.42,5.41],yd:[-.13,3.44],yt:[0,.5,1,1.5,2,2.5,3],black:icmBlack,red:icmRed});
volcano({fx0:256,fx1:470,xd:[-5.44,5.41],yd:[-.19,5.01],yt:[0,1,2,3,4,5],black:icpBlack,red:icpRed});
volcano({fx0:493.3,fx1:711.7,xd:[-5.41,5.66],yd:[-.146,3.83],yt:[0,1,2,3],black:ictfBlack,red:ictfRed});

const off={I:-.182,N:.191},half=.129;
const bars=barCategories.flatMap((cat,i)=>[
  {g:"I",i,x1:i+off.I-half,x2:i+off.I+half,v:groupIMeans[i],top:groupIMeans[i]+groupIErr[i],cx:i+off.I},
  {g:"N",i,x1:i+off.N-half,x2:i+off.N+half,v:groupNMeans[i],top:groupNMeans[i]+groupNErr[i],cx:i+off.N}]);
const bracket1=[[-.182,15.1],[-.182,15.4],[.213,15.4],[.213,3.9]];
const bracket2=[[.813,10.2],[.813,10.5],[1.2,10.5],[1.2,2.7]];
const stars=[{x:.027,y:15.9,t:"**"},{x:1.018,y:10.9,t:"*"}];
mount(Plot.plot({width:295,height:237,marginLeft:65,marginRight:5,marginTop:12,marginBottom:75,
  style:baseStyle(SANS),
  x:{domain:[-.503,2.497],label:null},y:{domain:[0,20],label:null},
  marks:[
    Plot.ruleX(bars,{x:"cx",y1:"v",y2:"top",stroke:"#444",strokeWidth:1}),
    Plot.ruleY(bars,{x1:d=>d.cx-.062,x2:d=>d.cx+.062,y:"top",stroke:"#444",strokeWidth:1}),
    Plot.rectY(bars,{x1:"x1",x2:"x2",y1:0,y2:"v",fill:d=>d.g==="I"?"#fff":"#000",stroke:"#555",strokeWidth:1.2}),
    Plot.line(bracket1,{x:d=>d[0],y:d=>d[1],stroke:"#555",strokeWidth:1}),
    Plot.line(bracket2,{x:d=>d[0],y:d=>d[1],stroke:"#555",strokeWidth:1}),
    Plot.text(stars,{x:"x",y:"y",text:"t",fontSize:13,fontWeight:"bold",fill:"#333"}),
    Plot.ruleY([0],{stroke:"#444",strokeWidth:1.3}),
    Plot.ruleX([-.503],{y1:0,y2:20,stroke:"#444",strokeWidth:1.3}),
    Plot.axisY({ticks:[0,5,10,15,20],tickSize:4,tickPadding:2,fontSize:11,fontWeight:"bold",stroke:"#444",fill:"#222",label:null}),
    Plot.axisX({ticks:[0,1,2],tickFormat:(d,i)=>barCategories[i],tickRotate:-45,tickSize:4,tickPadding:2,fontSize:12,fontWeight:"bold",stroke:"#444",fill:"#222",label:null}),
    Plot.text(["Relative miR-223-3p\nmRNA level"],{x:-.503,y:10,dx:-39.5,rotate:-90,fontSize:12,fontWeight:"bold",lineHeight:1.25,fill:"#222"})
  ]}),0,640);

const html=(s,x,y,css)=>{const d=document.createElement("div");d.innerHTML=s;d.style.cssText=css||"";mount(d,x,y);return d;};
[["Group I","#fff",650],["Group N","#000",670]].forEach(([t,f,y])=>{
  html("",227.7,y,`width:14px;height:7px;background:${f};border:1px solid #555`);
  html(t,253,y-3,"font-size:12.5px;font-weight:bold;color:#333;line-height:14px");
});
[["Clustering of differentially expressed<br>miRNAs in ICM vs NCM",106],["Clustering of differentially expressed<br>miRNAs in ICP vs NCP",351],["Clustering of differentially expressed<br>miRNAs in ICTF vs NCTF",605.7]].forEach(([t,x])=>{
  html(t,x,0,"font-size:12px;line-height:14px;color:#222;text-align:center;white-space:nowrap;transform:translateX(-50%)");
});
[["Volcano Plot(ICM vs NCM)",130],["Volcano Plot(ICP vs NCP)",366],["Volcano Plot(ICTF vs NCTF)",608]].forEach(([t,x])=>{
  html(t,x,434,"font-size:9.7px;line-height:12px;color:#333;white-space:nowrap;transform:translateX(-50%)");
});
</script></body></html>
